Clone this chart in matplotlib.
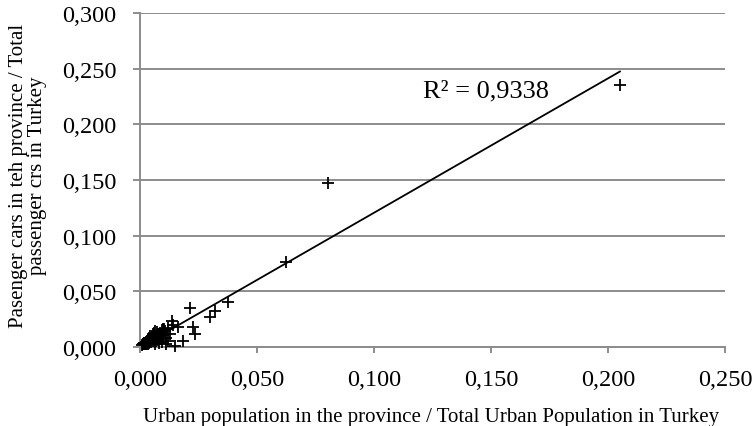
import numpy as np
import matplotlib
matplotlib.use("Agg")
import matplotlib.pyplot as plt
from matplotlib.ticker import FuncFormatter

# Urban population share (x) and passenger car share (y) by province
urban_share = [
    0.2051, 0.0803, 0.0624, 0.0376, 0.0320, 0.0299, 0.0214, 0.0228, 0.0235,
    0.0185, 0.0150, 0.0136, 0.0164, 0.0100, 0.0064,
    0.0140, 0.0128, 0.0118, 0.0110, 0.0105, 0.0098, 0.0092, 0.0088, 0.0085,
    0.0080, 0.0078, 0.0075, 0.0072, 0.0070, 0.0068, 0.0065, 0.0062, 0.0060,
    0.0058, 0.0056, 0.0054, 0.0052, 0.0050, 0.0048, 0.0046, 0.0045, 0.0043,
    0.0042, 0.0040, 0.0039, 0.0038, 0.0036, 0.0035, 0.0034, 0.0033, 0.0032,
    0.0031, 0.0030, 0.0029, 0.0028, 0.0027, 0.0026, 0.0025, 0.0024, 0.0023,
    0.0022, 0.0021, 0.0020, 0.0019, 0.0018, 0.0017, 0.0016, 0.0015, 0.0014,
    0.0013, 0.0012, 0.0011, 0.0010, 0.0110, 0.0095, 0.0082, 0.0120, 0.0102,
    0.0076, 0.0066, 0.0058,
]
car_share = [
    0.2350, 0.1470, 0.0766, 0.0405, 0.0327, 0.0267, 0.0350, 0.0177, 0.0117,
    0.0057, 0.0012, 0.0237, 0.0177, 0.0160, 0.0147,
    0.0200, 0.0120, 0.0175, 0.0080, 0.0145, 0.0110, 0.0155, 0.0070, 0.0125,
    0.0100, 0.0060, 0.0110, 0.0135, 0.0080, 0.0050, 0.0100, 0.0085, 0.0065,
    0.0075, 0.0115, 0.0050, 0.0070, 0.0085, 0.0060, 0.0045, 0.0065, 0.0080,
    0.0050, 0.0040, 0.0060, 0.0045, 0.0065, 0.0030, 0.0045, 0.0055, 0.0035,
    0.0040, 0.0025, 0.0050, 0.0035, 0.0045, 0.0030, 0.0040, 0.0025, 0.0035,
    0.0030, 0.0040, 0.0025, 0.0035, 0.0027, 0.0033, 0.0023, 0.0030, 0.0025,
    0.0027, 0.0023, 0.0025, 0.0020, 0.0030, 0.0045, 0.0035, 0.0055, 0.0160,
    0.0120, 0.0025, 0.0130,
]
r2_text = "R² = 0,9338"
x_ticks = [0.0, 0.05, 0.10, 0.15, 0.20, 0.25]
y_ticks = [0.0, 0.05, 0.10, 0.15, 0.20, 0.25, 0.30]

plt.rcParams['font.family'] = ['Liberation Serif', 'DejaVu Serif']

fig = plt.figure(figsize=(7.52, 4.27), dpi=100)
ax = fig.add_axes([140 / 752, 1 - 348 / 427, 585 / 752, 334 / 427])

x = np.array(urban_share)
y = np.array(car_share)
ax.plot(x, y, linestyle='none', marker='+', color='black',
        markersize=9, markeredgewidth=1.3, zorder=3, clip_on=False)

slope, intercept = np.polyfit(x, y, 1)
xl = np.array([x.min(), x.max()])
ax.plot(xl, slope * xl + intercept, color='black', lw=1.3, zorder=4)

ax.set_xlim(0, 0.25)
ax.set_ylim(0, 0.30)
ax.set_xticks(x_ticks)
ax.set_yticks(y_ticks)
fmt = FuncFormatter(lambda v, p: f"{v:.3f}".replace('.', ','))
ax.xaxis.set_major_formatter(fmt)
ax.yaxis.set_major_formatter(fmt)

ax.grid(axis='y', color='#8c8c8c', lw=1.4)
ax.set_axisbelow(True)
for s in ['top', 'right']:
    ax.spines[s].set_visible(False)
for s in ['left', 'bottom']:
    ax.spines[s].set_color('#8c8c8c')
    ax.spines[s].set_linewidth(1.4)
ax.tick_params(axis='x', direction='out', length=4.5, width=1.4, color='#8c8c8c',
               labelsize=17.5, pad=11)
ax.tick_params(axis='y', direction='out', length=5, width=1.4, color='#8c8c8c',
               labelsize=17.5, pad=12)

fig.text(431 / 752, 1 - 422 / 427,
         "Urban population in the province / Total Urban Population in Turkey",
         fontsize=15, ha='center', va='baseline')
fig.text(28 / 752, 1 - 176 / 427,
         "Pasenger cars in teh province / Total\npassenger crs in Turkey",
         fontsize=15, ha='center', va='center', rotation=90,
         linespacing=0.95, multialignment='center')

ax.text(0.148, 0.2306, r2_text, fontsize=19, ha='center', va='center')

fig.savefig("out.png", dpi=100)
